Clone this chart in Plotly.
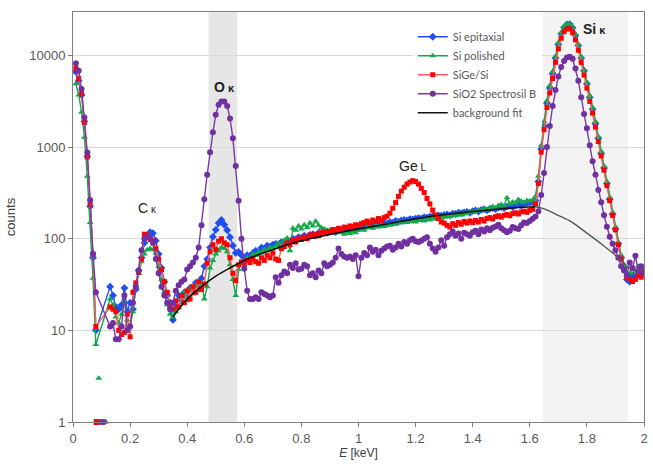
import math
import plotly.graph_objects as go

# Energy grid (keV), 10 eV steps
E = [round(0.01 * i, 2) for i in range(1, 201)]

si_epitaxial = [
    6600, 5300, 3700, 1900, 790, 225, 62, 10, None, None,
    None, None, 30, 24, 18, 17, 19, 29, 16, 20,
    17, 28, 45, 62, 90, 108, 118, 115, 95, 68,
    48, 34, 24, 20, 13, 19, 24, 21, 26, 23,
    29, 27, 33, 30, 37, 50, 60, 80, 105, 125,
    148, 160, 142, 124, 104, 84, 70, 72, 66, 62,
    66, 64, 70, 74, 72, 80, 78, 84, 82, 86,
    88, 84, 92, 90, 96, 94, 100, 98, 104, 102,
    108, 104, 110, 112, 108, 116, 114, 118, 116, 120,
    122, 118, 126, 124, 128, 126, 130, 128, 134, 130,
    136, 134, 138, 140, 138, 144, 142, 146, 148, 146,
    152, 150, 156, 154, 158, 160, 158, 164, 162, 166,
    168, 166, 172, 170, 174, 176, 172, 180, 178, 182,
    184, 180, 188, 186, 192, 190, 194, 196, 192, 200,
    204, 198, 206, 210, 204, 212, 216, 210, 218, 222,
    216, 224, 228, 222, 232, 236, 230, 240, 244, 248,
    250, 262, 420, 950, 1700, 3000, 4400, 6300, 9400, 13200,
    17200, 20200, 21800, 22000, 20000, 16500, 12800, 9400, 6800, 4900,
    3500, 2600, 1800, 1250, 850, 590, 400, 270, 185, 128,
    88, 62, 48, 36, 34, 40, 38, 44, 40, 42,
]

si_polished = [
    4900, 3700, 2400, 1280, 480, 150, 37, 7, None, None,
    None, None, 22, 19, 14, 12, 15, 21, 13, 11,
    16, 30, 42, 56, 68, 76, 78, 76, 70, 50,
    36, 26, 19, 15, 14, 16, 18, 23, 26, 21,
    28, 25, 31, 27, 33, 22, 30, 48, 58, 68,
    74, 80, 78, 72, 52, 36, 24, 46, 54, 58,
    62, 60, 68, 66, 72, 70, 76, 74, 80, 78,
    84, 90, 86, 96, 102, 74, 130, 124, 138, 128,
    142, 132, 148, 138, 155, 140, 132, 128, 124, 122,
    118, 126, 120, 116, 112, 118, 114, 120, 116, 124,
    128, 124, 132, 136, 130, 138, 134, 140, 136, 142,
    140, 146, 144, 150, 148, 152, 150, 156, 154, 152,
    158, 160, 156, 162, 160, 166, 164, 170, 168, 172,
    176, 174, 180, 178, 186, 182, 190, 188, 196, 194,
    200, 206, 202, 212, 208, 218, 224, 216, 230, 236,
    228, 280, 240, 252, 246, 268, 256, 250, 262, 258,
    264, 290, 480, 1050, 1900, 3200, 4700, 6700, 9800, 13800,
    17800, 20800, 22000, 22200, 20600, 17000, 13200, 9700, 7000, 5100,
    3650, 2700, 1900, 1300, 900, 620, 420, 285, 195, 135,
    92, 66, 52, 40, 42, 46, 44, 50, 46, 48,
]

sige_si = [
    7200, 5600, 3800, 1850, 780, 240, 68, 11, None, None,
    None, None, 18, 17, 16, 10, 9, 9.5, 15, 8.5,
    26, 33, 43, 60, 112, 110, 98, 95, 78, 60,
    46, 34, 26, 19, 17, 21, 18, 24, 20, 27,
    22, 30, 26, 34, 28, 32, 54, 72, 86, 76,
    94, 100, 90, 86, 62, 42, 35, 52, 56, 52,
    58, 55, 60, 56, 54, 62, 58, 66, 62, 70,
    60, 58, 78, 82, 90, 86, 96, 92, 100, 98,
    104, 100, 110, 106, 112, 108, 118, 114, 120, 118,
    126, 122, 130, 124, 134, 132, 138, 136, 142, 140,
    146, 150, 156, 148, 160, 154, 166, 158, 170, 176,
    190, 215, 248, 290, 330, 365, 395, 415, 430, 420,
    395, 355, 320, 275, 240, 205, 182, 166, 152, 148,
    140, 134, 146, 140, 150, 144, 154, 148, 156, 150,
    158, 152, 162, 156, 166, 170, 164, 174, 178, 172,
    180, 184, 178, 188, 192, 186, 196, 200, 194, 204,
    210, 240, 400, 880, 1550, 2700, 3900, 5600, 8400, 11800,
    15400, 18200, 19400, 19600, 17800, 14800, 11400, 8400, 6100, 4400,
    3150, 2350, 1650, 1150, 800, 560, 380, 260, 180, 125,
    86, 60, 46, 38, 36, 34, 36, 40, 38, 44,
]

sio2_spectrosil = [
    8200, 6800, 4300, 2100, 870, 265, 68, 26, None, None,
    None, None, 11, 12, 8, 8, 11, 24, 10, 11,
    20, 30, 45, 75, 100, 106, 102, 90, 60, 42,
    30, 24, 20, 17, 20, 27, 31, 34, 36, 46,
    50, 55, 62, 80, 140, 270, 500, 880, 1450, 2250,
    2900, 3150, 3150, 2800, 2050, 1250, 620, 260, 100, 47,
    27, 22, 22, 23, 22, 26, 25, 24, 23, 24,
    38, 33, 40, 44, 42, 52, 48, 54, 46, 47,
    52, 50, 40, 42, 38, 45, 42, 54, 50, 52,
    55, 62, 78, 68, 64, 62, 64, 60, 66, 39,
    62, 70, 66, 80, 72, 76, 66, 74, 78, 82,
    84, 76, 80, 88, 82, 92, 88, 96, 100, 94,
    92, 95, 100, 104, 88, 78, 72, 80, 96, 84,
    104, 112, 120, 108, 114, 100, 116, 112, 108, 118,
    122, 112, 126, 120, 130, 124, 132, 136, 142, 130,
    124, 118, 122, 134, 130, 128, 140, 150, 148, 156,
    165, 175, 200, 300, 520, 1000, 1700, 2800, 4200, 5900,
    7500, 8700, 9500, 9700, 9200, 7200, 5300, 3500, 2300, 1600,
    1050, 700, 500, 340, 250, 180, 135, 105, 88, 75,
    62, 50, 45, 40, 55, 48, 65, 44, 50, 42,
]

# isolated low readings (plotted without connecting lines)
green_low_E = [0.09, 0.115]
green_low = [3, 1]
red_low_E = [0.083]
red_low = [1]
purple_low_E = [0.10, 0.108]
purple_low = [1, 1]

# background fit
bg_E = [0.35, 0.40, 0.45, 0.50, 0.55, 0.60, 0.65, 0.70, 0.75, 0.80, 0.85,
        0.90, 0.95, 1.00, 1.05, 1.10, 1.15, 1.20, 1.25, 1.30, 1.35, 1.40,
        1.45, 1.50, 1.55, 1.60, 1.62]
bg_counts = [14, 22, 30, 39, 48, 58, 67, 76, 86, 95, 103, 111, 120, 128,
             136, 145, 155, 165, 175, 183, 190, 198, 205, 212, 218, 222, 223]
bg_tail_E = [1.62, 1.65, 1.70, 1.75, 1.80, 1.85, 1.90, 1.95]
bg_tail_counts = [223, 212, 180, 150, 115, 88, 66, 47]

# peak labels
label_E = [0.262, 0.53, 1.19, 1.825]
label_counts = [215, 4500, 620, 19500]
label_text = ["C<span style='font-size:10px'> κ</span>",
              "<b>O<span style='font-size:11px'> κ</span></b>",
              "Ge<span style='font-size:10px'> L</span>",
              "<b>Si<span style='font-size:11px'> κ</span></b>"]

series = [
    ("Si epitaxial", si_epitaxial, "#1f4ff0", "#1f4ff0", "diamond", 6),
    ("Si polished", si_polished, "#14a84a", "#14a84a", "triangle-up", 6),
    ("SiGe/Si", sige_si, "#ff5a5a", "#ff0000", "square", 5),
    ("SiO2 Spectrosil B", sio2_spectrosil, "#7a3aa8", "#7030a0", "circle", 6),
]

fig = go.Figure()
for name, ys, lc, mc, sym, ms in series:
    fig.add_trace(go.Scatter(
        x=E, y=ys, name=name, mode="lines+markers", connectgaps=True,
        line=dict(color=lc, width=1.4),
        marker=dict(color=mc, symbol=sym, size=ms, line=dict(width=0)),
    ))

for xs, ys, mc, sym in [(green_low_E, green_low, "#14a84a", "triangle-up"),
                        (red_low_E, red_low, "#ff0000", "square"),
                        (purple_low_E, purple_low, "#7030a0", "circle")]:
    fig.add_trace(go.Scatter(x=xs, y=ys, mode="markers", showlegend=False,
                             marker=dict(color=mc, symbol=sym, size=6),
                             cliponaxis=False))

fig.add_trace(go.Scatter(x=bg_E, y=bg_counts, name="background fit",
                         mode="lines", line=dict(color="#111111", width=1.6,
                                                 shape="spline")))
fig.add_trace(go.Scatter(x=bg_tail_E, y=bg_tail_counts, mode="lines",
                         showlegend=False,
                         line=dict(color="#555555", width=1.4, shape="spline")))

# shaded regions of interest
fig.add_shape(type="rect", xref="x", yref="paper", x0=0.475, x1=0.575,
              y0=0, y1=1, fillcolor="#e6e6e6", line=dict(width=0),
              layer="below")
fig.add_shape(type="rect", xref="x", yref="paper", x0=1.645, x1=1.945,
              y0=0, y1=1, fillcolor="#f3f3f3", line=dict(width=0),
              layer="below")

ann_font = dict(family="Liberation Sans, Arial", size=14, color="#222222")
for x, y, t in zip(label_E, label_counts, label_text):
    fig.add_annotation(x=x, y=math.log10(y), yref="y", xref="x", text=t,
                       showarrow=False, font=ann_font)

fig.update_layout(
    width=653, height=464,
    margin=dict(l=73, r=5, t=12, b=42),
    paper_bgcolor="white", plot_bgcolor="white",
    showlegend=True,
    legend=dict(x=0.595, y=0.975, xanchor="left", yanchor="top",
                bgcolor="white", font=dict(family="Lato, Open Sans", size=11,
                                           color="#595959"),
                itemwidth=30, tracegroupgap=0),
    font=dict(family="Liberation Sans, Arial", color="#595959"),
)
fig.update_xaxes(
    range=[0, 2], dtick=0.2, tick0=0, showgrid=False,
    showline=True, linecolor="#7f7f7f", linewidth=1, mirror=True,
    ticks="outside", ticklen=4, tickcolor="#7f7f7f",
    tickfont=dict(size=13, color="#595959"),
    title=dict(text="<i>E</i> [keV]", font=dict(size=12, color="#404040"),
               standoff=4),
    zeroline=False,
)
fig.update_yaxes(
    type="log", range=[0, 4.474],
    tickvals=[1, 10, 100, 1000, 10000],
    ticktext=["1", "10", "100", "1000", "10000"],
    showgrid=True, gridcolor="#d9d9d9", gridwidth=1,
    showline=True, linecolor="#7f7f7f", linewidth=1, mirror=True,
    ticks="outside", ticklen=4, tickcolor="#7f7f7f",
    tickfont=dict(size=13, color="#595959"),
    title=dict(text="counts", font=dict(size=13, color="#404040"), standoff=10),
    zeroline=False,
)

fig.write_html("out.html")
